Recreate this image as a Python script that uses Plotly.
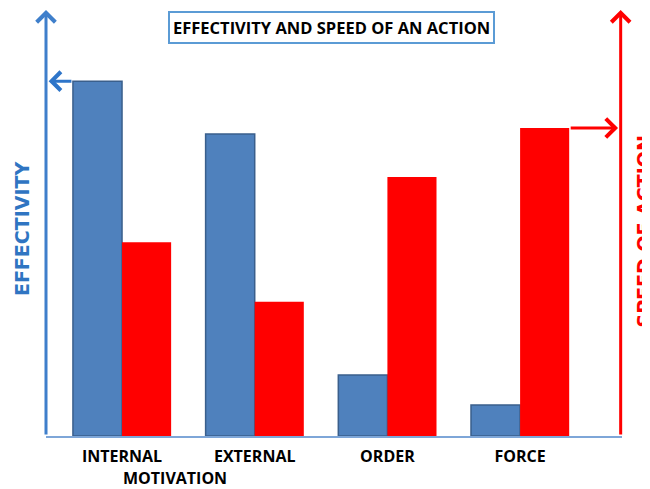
import plotly.graph_objects as go

categories = ["INTERNAL", "EXTERNAL", "ORDER", "FORCE"]
effectivity = [83.3, 70.9, 14.3, 7.3]
speed = [45.5, 31.5, 60.8, 72.3]
group_label = "MOTIVATION"
title_text = "EFFECTIVITY AND SPEED OF AN ACTION"
left_title = "EFFECTIVITY"
right_title = "SPEED OF ACTION"

BLUE_BAR = "#4F81BD"
BLUE_LINE = "#3F7FCB"
RED = "#FF0000"

x_idx = list(range(len(categories)))
bargap = 0.26
half = (1 - bargap) / 2  # width of one bar in category units

fig = go.Figure()
fig.add_trace(go.Bar(x=x_idx, y=effectivity, name="Effectivity",
                     marker=dict(color=BLUE_BAR, line=dict(color="#3A5F8C", width=1.5))))
fig.add_trace(go.Bar(x=x_idx, y=speed, name="Speed",
                     marker=dict(color=RED, line=dict(color=RED, width=0))))

x_left, x_right = -0.573, 3.768
y_top = 100

annotations = []
# vertical axis arrows
annotations.append(dict(x=x_left, y=y_top, ax=x_left, ay=0, xref="x", yref="y", axref="x", ayref="y",
                        text="", showarrow=True, arrowhead=4, arrowsize=1.2, arrowwidth=3, arrowcolor=BLUE_LINE))
annotations.append(dict(x=x_right - 0.01, y=y_top, ax=x_right - 0.01, ay=0, xref="x", yref="y", axref="x", ayref="y",
                        text="", showarrow=True, arrowhead=4, arrowsize=1.2, arrowwidth=3, arrowcolor=RED))
# horizontal arrows from bar tops to axes
annotations.append(dict(x=x_left + 0.02, y=effectivity[0], ax=0 - half, ay=effectivity[0],
                        xref="x", yref="y", axref="x", ayref="y",
                        text="", showarrow=True, arrowhead=4, arrowsize=1.2, arrowwidth=3, arrowcolor="#2E75C9"))
annotations.append(dict(x=x_right - 0.03, y=speed[3], ax=3 + half, ay=speed[3],
                        xref="x", yref="y", axref="x", ayref="y",
                        text="", showarrow=True, arrowhead=4, arrowsize=1.2, arrowwidth=3, arrowcolor=RED))
# title box
annotations.append(dict(x=0.495, y=0.96, xref="paper", yref="paper", xanchor="center", yanchor="middle",
                        text=title_text, showarrow=False,
                        font=dict(family="Open Sans", size=16.5, color="black", weight="bold"),
                        bgcolor="white", bordercolor="#5B9BD5", borderwidth=2, borderpad=3))
# axis titles
annotations.append(dict(x=-0.0417, y=0.488, xref="paper", yref="paper", xanchor="center", yanchor="middle",
                        text=left_title, showarrow=False, textangle=-90,
                        font=dict(family="DejaVu Sans", size=19, color="#2F75C2", weight="bold")))
annotations.append(dict(x=1.0375, y=0.479, xref="paper", yref="paper", xanchor="center", yanchor="middle",
                        text=right_title, showarrow=False, textangle=-90,
                        font=dict(family="DejaVu Sans", size=19, color=RED, weight="bold")))
# group label
annotations.append(dict(x=0.4, y=-0.099, xref="x", yref="paper", xanchor="center", yanchor="middle",
                        text=group_label, showarrow=False,
                        font=dict(family="Open Sans", size=16, color="black", weight="bold")))

fig.update_layout(
    width=642, height=481,
    margin=dict(l=38, r=28, t=2, b=53),
    paper_bgcolor="white", plot_bgcolor="white",
    barmode="group", bargap=bargap, bargroupgap=0,
    showlegend=False,
    annotations=annotations,
    xaxis=dict(range=[x_left, x_right], tickmode="array", tickvals=x_idx, ticktext=categories,
               showgrid=False, zeroline=False, showline=True, linecolor="#7EA6D8", linewidth=2,
               ticks="", ticklabelstandoff=5,
               tickfont=dict(family="Open Sans", size=16, color="black", weight="bold")),
    yaxis=dict(range=[0, y_top], showgrid=False, zeroline=False, showticklabels=False, showline=False),
)

fig.write_html("out.html")
